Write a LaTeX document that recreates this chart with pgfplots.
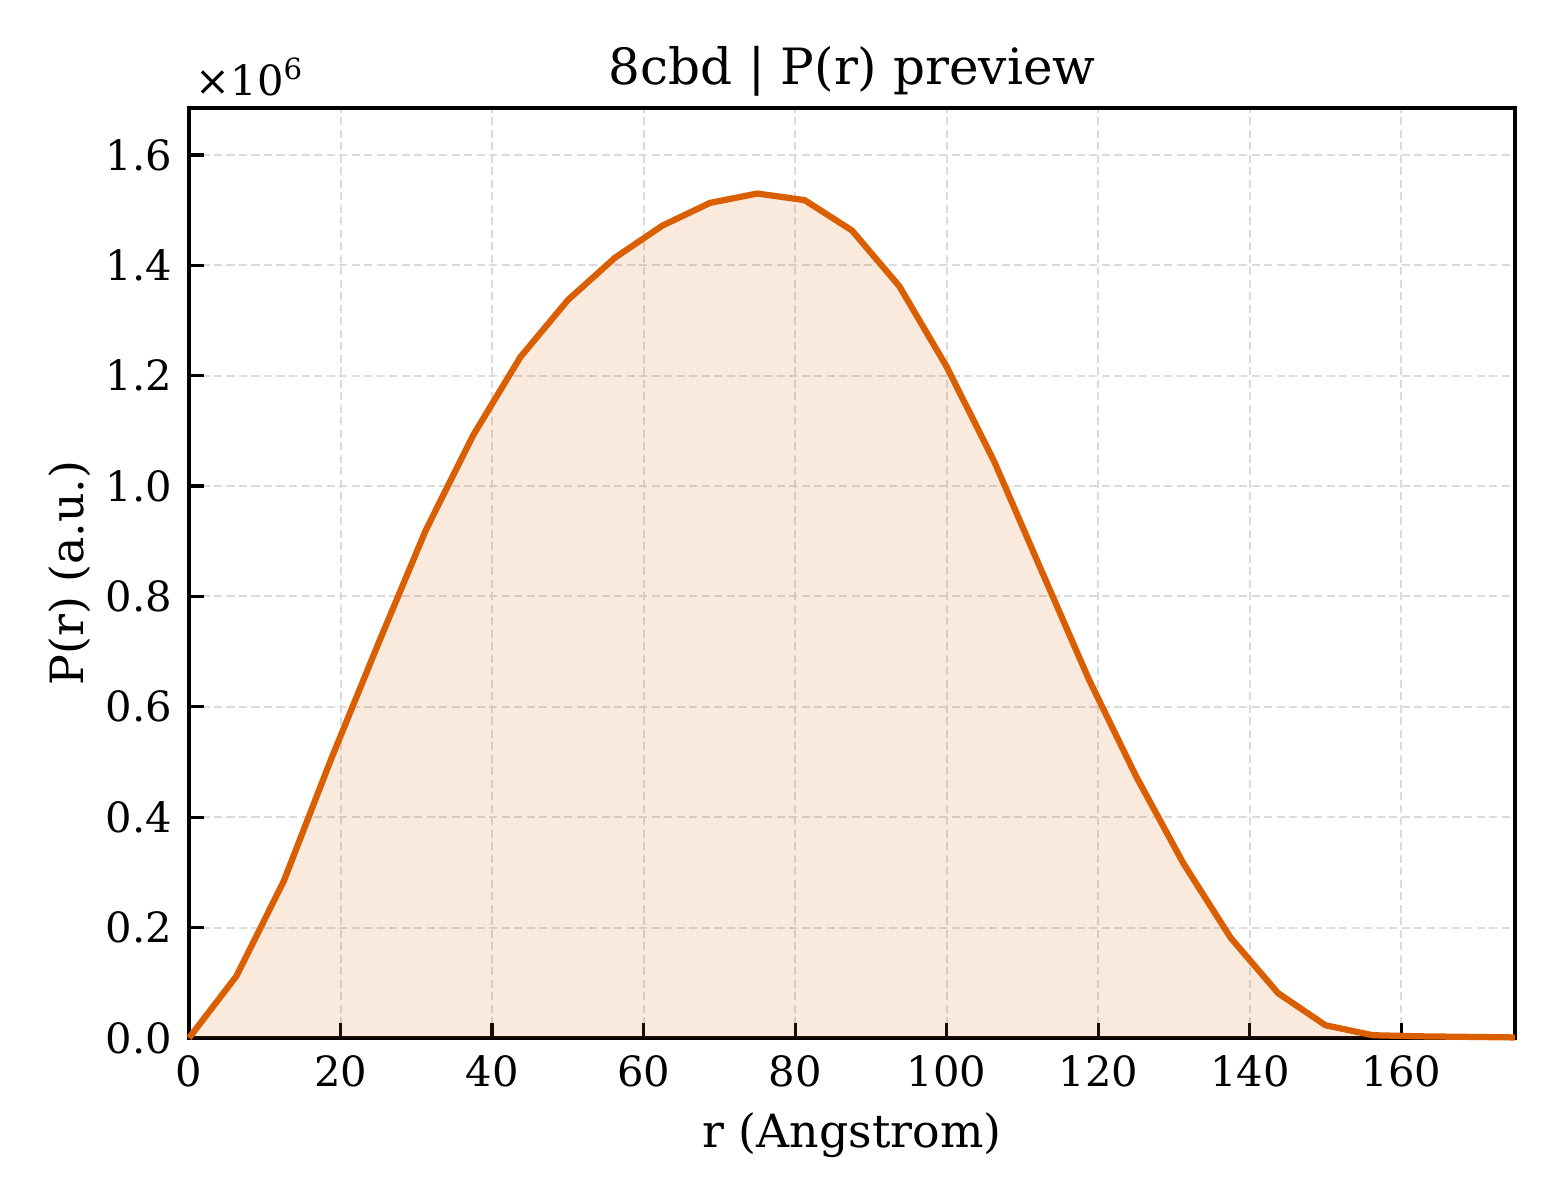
\documentclass[border=0pt]{standalone}
\usepackage{pgfplots}
\pgfplotsset{compat=1.18}
\usepackage{fontspec}
\setmainfont{DejaVu Serif}
\definecolor{orng}{HTML}{D95F02}
\begin{document}
\begin{tikzpicture}
\useasboundingbox (-45.36pt,-38.88pt) rectangle (329.04pt,249.12pt);
\begin{axis}[
  at={(0,0)}, anchor=south west,
  scale only axis,
  clip=false,
  width=318.24pt, height=223.2pt,
  xmin=0, xmax=175, ymin=0, ymax=1.685,
  xtick={0,20,...,160},
  ytick={0,0.2,...,1.6},
  /pgf/number format/assume math mode=true,
  yticklabel style={/pgf/number format/fixed,/pgf/number format/fixed zerofill,/pgf/number format/precision=1, font=\fontsize{10}{12}\selectfont, anchor=east, xshift=-0.5pt},
  xticklabel style={font=\fontsize{10}{12}\selectfont, anchor=base, yshift=-11.76pt},
  scaled y ticks=false,
  tick align=inside,
  xtick pos=bottom, ytick pos=left,
  major tick length=3.6pt,
  every tick/.style={black, line width=0.8pt},
  axis line style={line width=1pt},
  grid=major,
  major grid style={dashed, dash pattern=on 2pt off 1pt, gray!28, line width=0.5pt},
  title={8cbd | P(r) preview},
  title style={font=\fontsize{12}{14}\selectfont, at={(0.5,1)}, anchor=base, yshift=-0.3pt},
  xlabel={r (Angstrom)},
  xlabel style={font=\fontsize{11}{13}\selectfont, at={(0.5,0)}, anchor=base, yshift=-26.2pt},
  ylabel={P(r) (a.u.)},
  ylabel style={font=\fontsize{11}{13}\selectfont, at={(0,0.5)}, anchor=base, rotate=0, yshift=25.2pt},
]
\addplot[draw=none, fill=orng, fill opacity=0.13] coordinates {
(0,0) (6.25,0.112) (12.5,0.284) (18.75,0.505) (25,0.715) (31.25,0.920)
(37.5,1.092) (43.75,1.234) (50,1.337) (56.25,1.414) (62.5,1.472)
(68.75,1.513) (75,1.530) (81.25,1.518) (87.5,1.463) (93.75,1.362)
(100,1.216) (106.25,1.045) (112.5,0.847) (118.75,0.650) (125,0.474)
(131.25,0.316) (137.5,0.181) (143.75,0.081) (150,0.023) (156.25,0.005)
(162.5,0.003) (168.75,0.002) (175,0.001)
} \closedcycle;
\addplot[orng, line width=1.5pt] coordinates {
(0,0) (6.25,0.112) (12.5,0.284) (18.75,0.505) (25,0.715) (31.25,0.920)
(37.5,1.092) (43.75,1.234) (50,1.337) (56.25,1.414) (62.5,1.472)
(68.75,1.513) (75,1.530) (81.25,1.518) (87.5,1.463) (93.75,1.362)
(100,1.216) (106.25,1.045) (112.5,0.847) (118.75,0.650) (125,0.474)
(131.25,0.316) (137.5,0.181) (143.75,0.081) (150,0.023) (156.25,0.005)
(162.5,0.003) (168.75,0.002) (175,0.001)
};
\node[anchor=base west, inner sep=0pt, font=\fontsize{10}{12}\selectfont] at ([xshift=1.4pt,yshift=3.1pt]rel axis cs:0,1) {×10\textsuperscript{6}};
\end{axis}
\end{tikzpicture}
\end{document}
